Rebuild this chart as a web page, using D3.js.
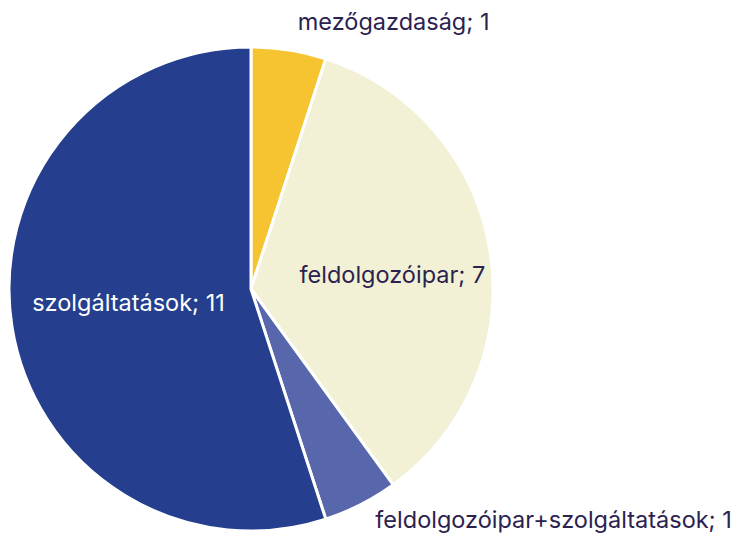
<!DOCTYPE html>
<html lang="hu">
<head>
<meta charset="UTF-8">
<title>Pie</title>
<style>
  body { margin: 0; background: #fff; }
  svg text { font-family: Inter, "Open Sans", sans-serif; font-size: 23.5px; }
</style>
</head>
<body>
<script src="https://cdn.jsdelivr.net/npm/d3@7"></script>
<script>
  // data
  var categories = ["mezőgazdaság", "feldolgozóipar", "feldolgozóipar+szolgáltatások", "szolgáltatások"];
  var values = [1, 7, 1, 11];
  var colors = ["#F6C431", "#F2F1D5", "#5866AB", "#253F8E"];
  var labelColors = ["#2B2250", "#2B2250", "#2B2250", "#FFFFFF"];

  var width = 736, height = 536;
  var cx = 251, cy = 289, radius = 242;

  var svg = d3.select("body").append("svg")
      .attr("width", width)
      .attr("height", height);

  var g = svg.append("g")
      .attr("transform", "translate(" + cx + "," + cy + ")");

  var pie = d3.pie().sort(null).value(function (d) { return d; });
  var arcs = pie(values);

  var arc = d3.arc().innerRadius(0).outerRadius(radius);

  g.selectAll("path")
      .data(arcs)
      .enter().append("path")
      .attr("d", arc)
      .attr("fill", function (d, i) { return colors[i]; })
      .attr("stroke", "#fff")
      .attr("stroke-width", 3)
      .attr("stroke-linejoin", "round");

  // label placement: inside labels at a fraction of radius, outside ones past the edge
  var place = [
      {r: 1.13, dx: 4, dy: 11, anchor: "start"},
      {r: 0.6, dx: -2, dy: 17, anchor: "middle"},
      {r: 1.05, dx: 9, dy: 13, anchor: "start"},
      {r: 0.55, dx: 9, dy: 1, anchor: "middle"}
  ];

  g.selectAll("text.lbl")
      .data(arcs)
      .enter().append("text")
      .attr("class", "lbl")
      .attr("x", function (d, i) {
          var a = (d.startAngle + d.endAngle) / 2;
          return Math.sin(a) * radius * place[i].r + place[i].dx;
      })
      .attr("y", function (d, i) {
          var a = (d.startAngle + d.endAngle) / 2;
          return -Math.cos(a) * radius * place[i].r + place[i].dy;
      })
      .attr("text-anchor", function (d, i) { return place[i].anchor; })
      .attr("fill", function (d, i) { return labelColors[i]; })
      .text(function (d, i) { return categories[i] + "; " + values[i]; });
</script>
</body>
</html>
